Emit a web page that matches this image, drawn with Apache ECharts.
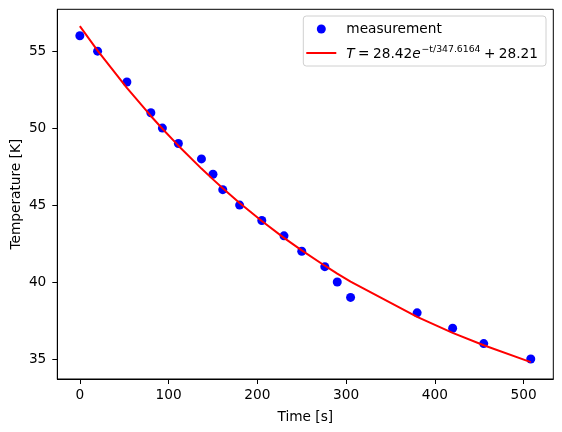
<!DOCTYPE html>
<html>
<head>
<meta charset="utf-8">
<script src="https://cdn.jsdelivr.net/npm/echarts@6/dist/echarts.min.js"></script>
<style>
html,body{margin:0;padding:0;background:#fff;}
#c{width:562px;height:432px;}
</style>
</head>
<body>
<div id="c"></div>
<script>
// measured data
const timeS = [0, 20, 53, 80, 93, 111, 137, 150, 161, 180, 205, 230, 250, 276, 290, 305, 380, 420, 455, 508];
const tempK = [56, 55, 53, 51, 50, 49, 48, 47, 46, 45, 44, 43, 42, 41, 40, 39, 38, 37, 36, 35];
const fitK = [56.63, 55.04, 52.61, 50.79, 49.96, 48.86, 47.37, 46.67, 46.09, 45.14, 43.97, 42.87, 42.06, 41.06, 40.55, 40.03, 37.74, 36.70, 35.89, 34.80];
const xTicks = [0, 100, 200, 300, 400, 500];
const yTicks = [35, 40, 45, 50, 55];
const fitAmp = '28.42', fitTau = '347.6164', fitOff = '28.21';

const FIT = 'fit';
const FONT = 'DejaVu Sans';
const FS = 13.7;
const SP = '\u2005';
const chart = echarts.init(document.getElementById('c'), null, {renderer: 'canvas'});
chart.setOption({
  animation: false,
  backgroundColor: '#fff',
  grid: {left: 57.3, right: 8.7, top: 9.3, bottom: 53, containLabel: false, outerBoundsMode: 'none',
         show: true, borderColor: '#000', borderWidth: 1, backgroundColor: 'transparent'},
  xAxis: {
    type: 'value', min: -25.4, max: 533.4,
    name: 'Time [s]', nameLocation: 'middle', nameGap: 31, nameMoveOverlap: false,
    nameTextStyle: {fontFamily: FONT, fontSize: FS, color: '#000'},
    axisLine: {show: true, onZero: false, lineStyle: {color: '#000', width: 1}},
    axisTick: {show: true, length: 5, lineStyle: {color: '#000', width: 1}, customValues: xTicks},
    axisLabel: {fontFamily: FONT, fontSize: FS, color: '#000', margin: 9, customValues: xTicks},
    splitLine: {show: false}
  },
  yAxis: {
    type: 'value', min: 33.70, max: 57.72,
    name: 'Temperature [K]', nameLocation: 'middle', nameGap: 34, nameRotate: 90, nameMoveOverlap: false,
    nameTextStyle: {fontFamily: FONT, fontSize: FS, color: '#000'},
    axisLine: {show: true, onZero: false, lineStyle: {color: '#000', width: 1}},
    axisTick: {show: true, length: 5, lineStyle: {color: '#000', width: 1}, customValues: yTicks},
    axisLabel: {fontFamily: FONT, fontSize: FS, color: '#000', margin: 11, customValues: yTicks},
    splitLine: {show: false}
  },
  legend: {
    orient: 'vertical', right: 16, top: 16,
    itemWidth: 30, itemHeight: 9, itemGap: 9,
    symbolKeepAspect: true,
    padding: [6, 8, 5, 3],
    borderColor: '#d0d0d0', borderWidth: 1, borderRadius: 3,
    backgroundColor: 'rgba(255,255,255,0.8)',
    data: [
      {name: 'measurement', icon: 'circle'},
      {name: FIT, icon: 'path://M0,0L30,0L30,2L0,2Z'}
    ],
    textStyle: {
      fontFamily: FONT, fontSize: FS, color: '#000', padding: [0, 0, 0, 5],
      rich: {
        n: {fontFamily: FONT, fontSize: FS, color: '#000', verticalAlign: 'bottom'},
        it: {fontFamily: FONT, fontSize: FS, color: '#000', fontStyle: 'italic', verticalAlign: 'bottom'},
        sup: {fontFamily: FONT, fontSize: 9.3, color: '#000', verticalAlign: 'bottom', padding: [0, 0, 7, 1]}
      }
    },
    formatter: function (name) {
      if (name === FIT) {
        return '{it|T}{n|' + SP + '=' + SP + fitAmp + '}{it|e}{sup|−t/' + fitTau + '}{n|' + SP + '+' + SP + fitOff + '}';
      }
      return name;
    }
  },
  series: [
    {
      name: 'measurement', type: 'scatter', symbol: 'circle', symbolSize: 9,
      itemStyle: {color: '#0000ff', opacity: 1}, z: 2,
      data: timeS.map((t, i) => [t, tempK[i]])
    },
    {
      name: FIT, type: 'line', symbol: 'none', showSymbol: false, smooth: false,
      lineStyle: {color: '#ff0000', width: 2}, itemStyle: {color: '#ff0000'}, z: 3,
      data: timeS.map((t, i) => [t, fitK[i]])
    }
  ]
});
</script>
</body>
</html>
